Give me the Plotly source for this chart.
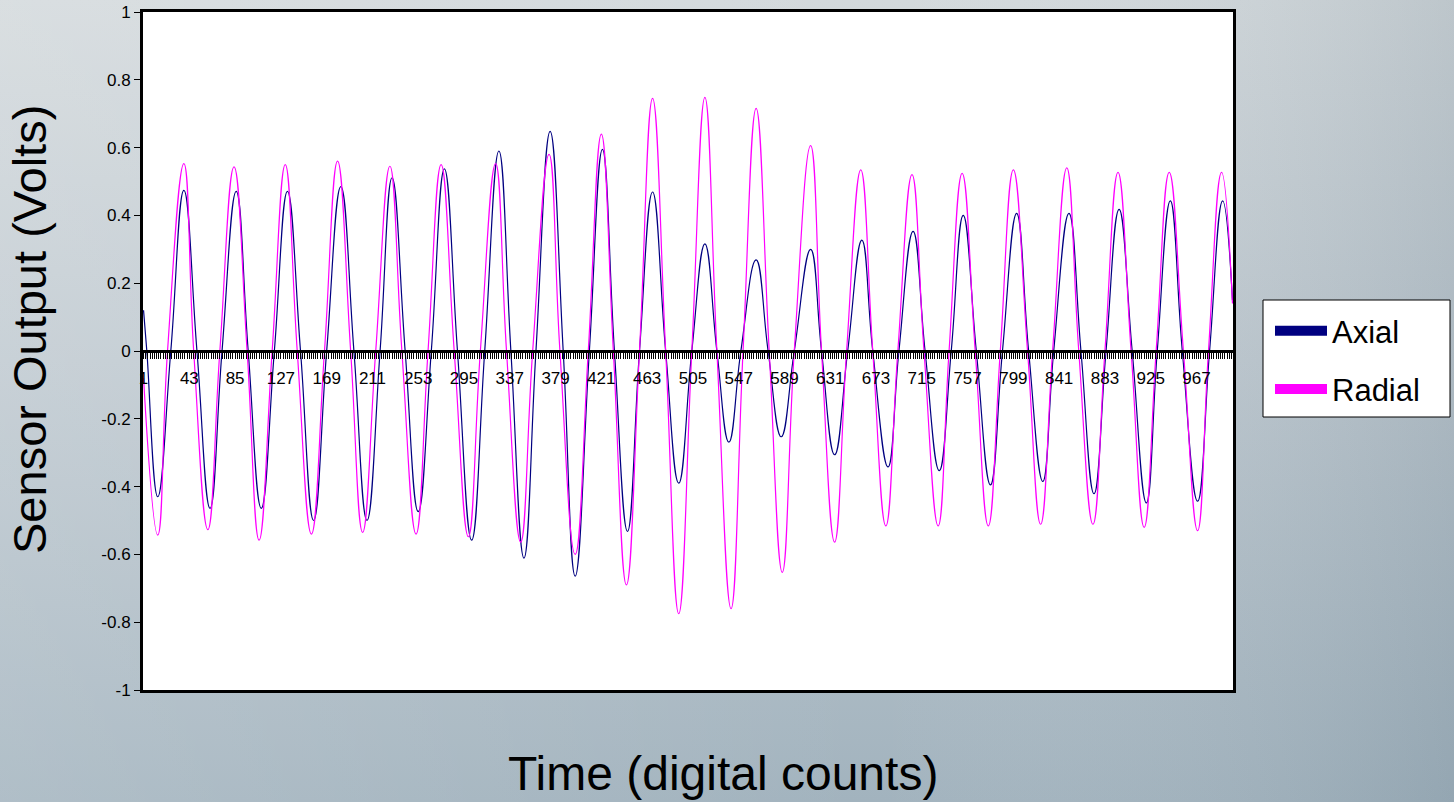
import base64
import plotly.graph_objects as go

# ---- Sensor traces: time (digital counts) and output (volts) at peaks, troughs and zero crossings ----
axial_t = [1, 4, 14, 26, 38, 50, 62, 73, 86, 97, 109, 121, 133, 145, 157, 169, 182, 194,
           206, 218, 229, 241, 253, 265, 277, 289, 302, 314, 327, 338, 350, 361, 374, 386,
           397, 410, 422, 433, 445, 456, 468, 480, 492, 504, 516, 527, 538, 549, 563, 574,
           586, 598, 613, 623, 635, 647, 660, 670, 684, 694, 707, 718, 731, 742, 753, 765,
           778, 789, 802, 813, 826, 836, 850, 861, 873, 884, 896, 908, 921, 931, 943, 954,
           968, 979, 991, 1000]
axial_v = [0.12, 0.0, -0.43, 0.0, 0.474, 0.0, -0.464, 0.0, 0.471, 0.0, -0.464, 0.0, 0.471, 0.0,
           -0.5, 0.0, 0.485, 0.0, -0.5, 0.0, 0.511, 0.0, -0.474, 0.0, 0.537, 0.0, -0.558, 0.0,
           0.59, 0.0, -0.611, 0.0, 0.648, 0.0, -0.664, 0.0, 0.595, 0.0, -0.532, 0.0, 0.469, 0.0,
           -0.39, 0.0, 0.316, 0.0, -0.269, 0.0, 0.269, 0.0, -0.253, 0.0, 0.3, 0.0, -0.306, 0.0,
           0.327, 0.0, -0.342, 0.0, 0.353, 0.0, -0.353, 0.0, 0.4, 0.0, -0.395, 0.0, 0.406, 0.0,
           -0.385, 0.0, 0.406, 0.0, -0.421, 0.0, 0.418, 0.0, -0.448, 0.0, 0.443, 0.0, -0.443, 0.0,
           0.443, 0.15]

radial_t = [1, 14, 23, 38, 47, 60, 71, 84, 96, 107, 119, 131, 142, 155, 167, 179, 191, 202,
            214, 227, 238, 251, 262, 274, 286, 299, 310, 324, 334, 347, 358, 373, 383, 397,
            409, 421, 432, 444, 456, 468, 480, 492, 504, 516, 527, 540, 551, 563, 575, 587,
            598, 613, 623, 635, 646, 659, 670, 682, 693, 706, 717, 730, 740, 752, 764, 776,
            787, 799, 812, 824, 835, 848, 859, 872, 883, 895, 907, 919, 930, 942, 955, 968,
            978, 990, 1000]
radial_v = [-0.08, -0.543, 0.0, 0.553, 0.0, -0.527, 0.0, 0.543, 0.0, -0.558, 0.0, 0.55, 0.0,
            -0.54, 0.0, 0.56, 0.0, -0.535, 0.0, 0.545, 0.0, -0.54, 0.0, 0.55, 0.0, -0.548, 0.0,
            0.553, 0.0, -0.564, 0.0, 0.58, 0.0, -0.6, 0.0, 0.64, 0.0, -0.69, 0.0, 0.745, 0.0,
            -0.775, 0.0, 0.748, 0.0, -0.76, 0.0, 0.716, 0.0, -0.653, 0.0, 0.606, 0.0, -0.564,
            0.0, 0.534, 0.0, -0.516, 0.0, 0.52, 0.0, -0.516, 0.0, 0.524, 0.0, -0.516, 0.0, 0.534,
            0.0, -0.511, 0.0, 0.54, 0.0, -0.511, 0.0, 0.527, 0.0, -0.52, 0.0, 0.527, 0.0, -0.53,
            0.0, 0.527, 0.14]

# ---- Axis ticks ----
count_ticks = [1, 43, 85, 127, 169, 211, 253, 295, 337, 379, 421, 463, 505, 547, 589, 631,
               673, 715, 757, 799, 841, 883, 925, 967]
count_labels = [str(c) for c in count_ticks]
volt_ticks = [1, 0.8, 0.6, 0.4, 0.2, 0, -0.2, -0.4, -0.6, -0.8, -1]
volt_labels = ["1", "0.8", "0.6", "0.4", "0.2", "0", "-0.2", "-0.4", "-0.6", "-0.8", "-1"]

AXIAL_COLOR = "#000080"
RADIAL_COLOR = "#ff00ff"
FONT = "Liberation Sans, Arial, Helvetica, sans-serif"

W, H = 1454, 802
L, R, T, B = 143, 221, 12, 112
pw, ph = W - L - R, H - T - B


def px_x(p):
    """Figure pixel column -> paper x."""
    return (p - L) / pw


def px_y(p):
    """Figure pixel row -> paper y."""
    return (H - B - p) / ph


# Slide-style backdrop: cool grey-blue gradient behind the chart
svg = f"""<svg xmlns='http://www.w3.org/2000/svg' width='{W}' height='{H}' viewBox='0 0 {W} {H}' preserveAspectRatio='none'>
<defs>
<linearGradient id='v' x1='0' y1='0' x2='0' y2='1'>
<stop offset='0' stop-color='#d3d9dc'/>
<stop offset='0.45' stop-color='#bfc9d0'/>
<stop offset='1' stop-color='#a2b3be'/>
</linearGradient>
<linearGradient id='h' x1='0' y1='0' x2='1' y2='0'>
<stop offset='0' stop-color='#ffffff' stop-opacity='0.15'/>
<stop offset='0.6' stop-color='#ffffff' stop-opacity='0'/>
<stop offset='1' stop-color='#4a6273' stop-opacity='0.16'/>
</linearGradient>
</defs>
<rect width='{W}' height='{H}' fill='url(#v)'/>
<rect width='{W}' height='{H}' fill='url(#h)'/>
</svg>"""
bg_src = "data:image/svg+xml;base64," + base64.b64encode(svg.encode()).decode()

fig = go.Figure()

fig.add_trace(go.Scatter(
    x=axial_t, y=axial_v, mode="lines", name="Axial", showlegend=False,
    line=dict(color=AXIAL_COLOR, width=1.2, shape="spline", smoothing=1.3),
    xaxis="x", yaxis="y"))
fig.add_trace(go.Scatter(
    x=radial_t, y=radial_v, mode="lines", name="Radial", showlegend=False,
    line=dict(color=RADIAL_COLOR, width=1.2, shape="spline", smoothing=1.3),
    xaxis="x", yaxis="y"))

# Legend entries with thick swatches
fig.add_trace(go.Scatter(
    x=[None], y=[None], mode="lines", name="Axial", legendgroup="a",
    line=dict(color=AXIAL_COLOR, width=12), xaxis="x2", yaxis="y"))
fig.add_trace(go.Scatter(
    x=[None], y=[None], mode="lines", name="Radial", legendgroup="r",
    line=dict(color=RADIAL_COLOR, width=12), xaxis="x2", yaxis="y"))

fig.update_layout(
    width=W, height=H,
    margin=dict(l=L, r=R, t=T, b=B, autoexpand=False),
    paper_bgcolor="#bcc7cd",
    plot_bgcolor="white",
    font=dict(family=FONT, color="black"),
    images=[dict(
        source=bg_src, xref="paper", yref="paper",
        x=-L / pw, y=1 + T / ph, sizex=W / pw, sizey=H / ph,
        xanchor="left", yanchor="top", sizing="stretch", layer="below")],
    shapes=[
        # white plot area over the backdrop
        dict(type="rect", xref="paper", yref="paper", x0=0, x1=1, y0=0, y1=1,
             fillcolor="white", line=dict(width=0), layer="below"),
        # legend box
        dict(type="rect", xref="paper", yref="paper",
             x0=px_x(1263), x1=px_x(1450), y0=px_y(417), y1=px_y(300),
             fillcolor="white", line=dict(color="black", width=1), layer="above"),
    ],
    # frame of the plot area
    xaxis=dict(
        range=[0.5, 1000.5], showline=True, mirror=True, linecolor="black", linewidth=3,
        showticklabels=False, ticks="", showgrid=False, zeroline=False, automargin=False),
    # category axis crossing at zero volts
    xaxis2=dict(
        overlaying="x", anchor="free", position=0.5, side="bottom",
        range=[0.5, 1000.5], showline=True, linecolor="black", linewidth=3,
        tickmode="array", tickvals=count_ticks, ticktext=count_labels,
        ticks="outside", ticklen=6, tickwidth=1.4, tickcolor="black",
        minor=dict(tickmode="linear", tick0=1, dtick=2, ticks="outside", ticklen=6,
                   tickwidth=1.4, tickcolor="black", showgrid=False),
        tickfont=dict(size=17, family=FONT), ticklabelstandoff=5,
        showgrid=False, zeroline=False, automargin=False),
    yaxis=dict(
        range=[-1, 1], showline=True, mirror=True, linecolor="black", linewidth=3,
        tickmode="array", tickvals=volt_ticks, ticktext=volt_labels,
        ticks="outside", ticklen=6, tickwidth=1, tickcolor="black",
        tickfont=dict(size=17, family=FONT), showgrid=False, zeroline=False,
        automargin=False),
    annotations=[
        dict(text="Time (digital counts)", xref="paper", yref="paper",
             x=px_x(723), y=px_y(773), xanchor="center", yanchor="middle",
             showarrow=False, font=dict(size=48, family=FONT, color="black")),
        dict(text="Sensor Output (Volts)", xref="paper", yref="paper",
             x=px_x(30), y=px_y(330), xanchor="center", yanchor="middle",
             textangle=-90, showarrow=False,
             font=dict(size=47, family=FONT, color="black")),
    ],
    legend=dict(
        x=px_x(1270), y=px_y(304), xanchor="left", yanchor="top",
        bgcolor="rgba(0,0,0,0)", borderwidth=0,
        font=dict(size=31, family=FONT), itemwidth=52, tracegroupgap=15,
        traceorder="grouped"),
)

fig.write_html("out.html")
